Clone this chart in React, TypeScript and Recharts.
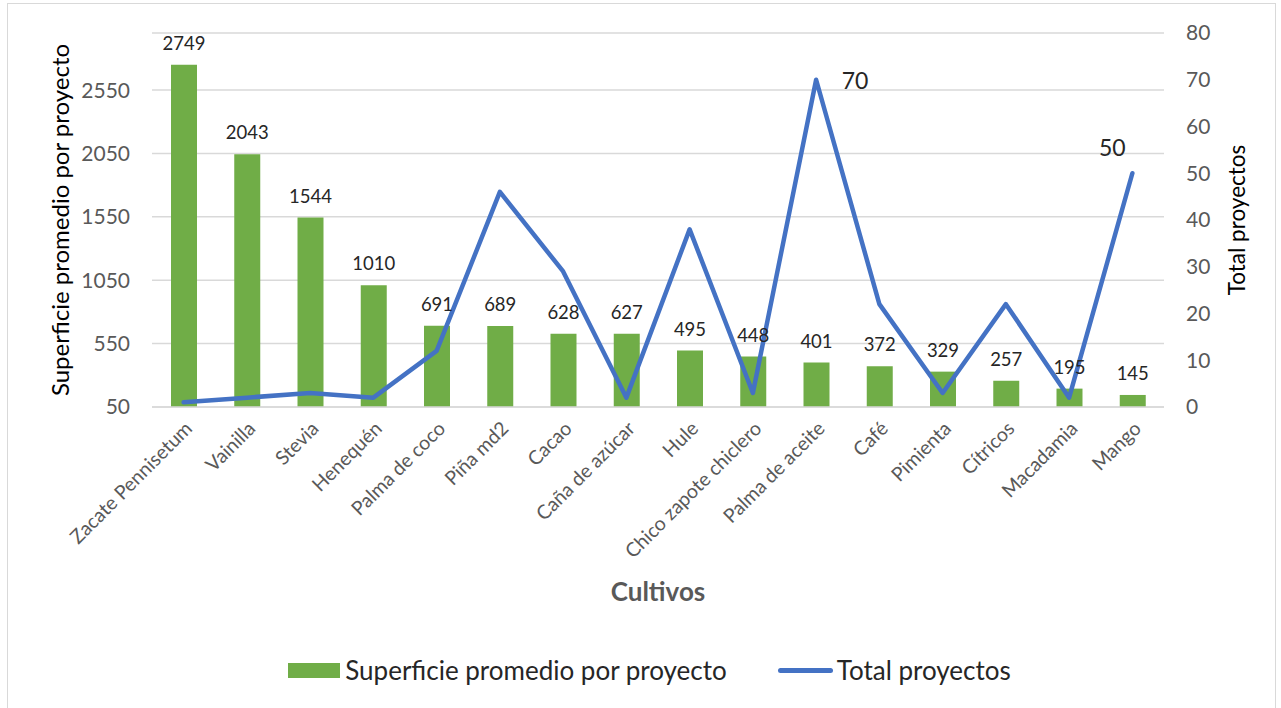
import {
  ComposedChart, Bar, Line, CartesianGrid, XAxis, YAxis, Legend, LabelList,
} from 'recharts';

const cultivos = [
  'Zacate Pennisetum', 'Vainilla', 'Stevia', 'Henequén', 'Palma de coco', 'Piña md2',
  'Cacao', 'Caña de azúcar', 'Hule', 'Chico zapote chiclero', 'Palma de aceite',
  'Café', 'Pimienta', 'Cítricos', 'Macadamia', 'Mango',
];
const superficie = [2749, 2043, 1544, 1010, 691, 689, 628, 627, 495, 448, 401, 372, 329, 257, 195, 145];
const totalProyectos = [1, 2, 3, 2, 12, 46, 29, 2, 38, 3, 70, 22, 3, 22, 2, 50];
const leftTicks = [50, 550, 1050, 1550, 2050, 2550];
const rightTicks = [0, 10, 20, 30, 40, 50, 60, 70, 80];
// only these points carry a value label on the line
const labeledLinePoints = ['Palma de aceite', 'Mango'];

const data = cultivos.map((name, i) => ({
  name,
  superficie: superficie[i],
  total: totalProyectos[i],
}));

const FONT = 'Lato, "Open Sans", sans-serif';
const GREEN = '#70AD47';
const BLUE = '#4472C4';
const GRAY = '#595959';

function CategoryTick(props: any) {
  const { x, y, payload } = props;
  return (
    <g transform={`translate(${x + 5},${y + 10}) rotate(-45)`}>
      <text textAnchor="end" dy="0.35em" fill={GRAY} fontSize={19.5} fontFamily={FONT}>
        {payload.value}
      </text>
    </g>
  );
}

function LinePointLabel(props: any) {
  const { x, y, index } = props;
  const name = cultivos[index];
  if (!labeledLinePoints.includes(name)) return null;
  const value = totalProyectos[index];
  const isLast = index === cultivos.length - 1;
  return (
    <text
      x={isLast ? x - 20 : x + 39}
      y={isLast ? y - 23 : y + 3}
      textAnchor="middle"
      dominantBaseline="middle"
      fill="#262626"
      fontSize={23}
      fontFamily={FONT}
    >
      {value}
    </text>
  );
}

function LegendContent() {
  return (
    <div style={{ display: 'flex', justifyContent: 'center', alignItems: 'center', fontFamily: FONT, fontSize: 26, lineHeight: '32px', color: '#262626', paddingLeft: 18 }}>
      <span style={{ display: 'inline-block', width: 52, height: 15, background: GREEN, marginRight: 5 }} />
      <span>Superficie promedio por proyecto</span>
      <span style={{ display: 'inline-block', width: 55, height: 5, borderRadius: 3, background: BLUE, marginLeft: 51, marginRight: 4 }} />
      <span>Total proyectos</span>
    </div>
  );
}

export default function App() {
  return (
    <div style={{ position: 'absolute', left: 0, top: 0, width: 1281, height: 708, background: '#fff', overflow: 'hidden' }}>
      <div style={{ position: 'absolute', left: 7, top: 3, width: 1267, height: 720, border: '1px solid #d9d9d9' }} />
      <ComposedChart
        width={1281}
        height={708}
        data={data}
        margin={{ top: 33, right: 0, left: 0, bottom: 22 }}
        style={{ fontFamily: FONT }}
      >
        <CartesianGrid yAxisId="left" vertical={false} stroke="#d9d9d9" strokeWidth={1.5} />
        <XAxis
          dataKey="name"
          interval={0}
          tick={<CategoryTick />}
          tickLine={false}
          axisLine={{ stroke: '#d9d9d9', strokeWidth: 1.5 }}
          height={247}
          label={{ value: 'Cultivos', position: 'insideTop', offset: 176, fill: GRAY, fontSize: 26, fontWeight: 700, fontFamily: FONT }}
        />
        <YAxis
          yAxisId="left"
          width={152}
          domain={[50, 3000]}
          ticks={leftTicks}
          tickLine={false}
          axisLine={false}
          tickMargin={16}
          tick={{ fill: GRAY, fontSize: 21, fontFamily: FONT }}
          label={{ value: 'Superficie promedio por proyecto', angle: -90, position: 'center', dx: -16, fill: '#000', fontSize: 24, fontFamily: FONT }}
        />
        <YAxis
          yAxisId="right"
          orientation="right"
          width={117}
          domain={[0, 80]}
          ticks={rightTicks}
          tickLine={false}
          axisLine={false}
          tickMargin={16}
          tick={{ fill: GRAY, fontSize: 21, fontFamily: FONT, textAnchor: 'start' }}
          label={{ value: 'Total proyectos', angle: -90, position: 'center', dx: 15, fill: '#000', fontSize: 22.5, fontFamily: FONT }}
        />
        <Legend verticalAlign="bottom" content={<LegendContent />} />
        <Bar yAxisId="left" dataKey="superficie" name="Superficie promedio por proyecto" fill={GREEN} barSize={26} isAnimationActive={false}>
          <LabelList dataKey="superficie" position="top" offset={15} fill="#262626" fontSize={18.5} fontFamily={FONT} />
        </Bar>
        <Line
          yAxisId="right"
          type="linear"
          dataKey="total"
          name="Total proyectos"
          stroke={BLUE}
          strokeWidth={4.5}
          strokeLinecap="round"
          strokeLinejoin="round"
          dot={false}
          activeDot={false}
          isAnimationActive={false}
        >
          <LabelList dataKey="total" content={<LinePointLabel />} />
        </Line>
      </ComposedChart>
    </div>
  );
}
